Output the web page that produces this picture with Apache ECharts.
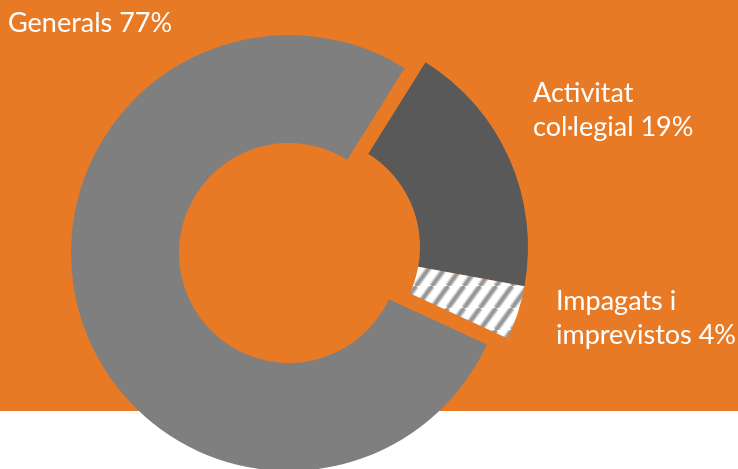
<!DOCTYPE html>
<html>
<head>
<meta charset="utf-8">
<script src="https://cdn.jsdelivr.net/npm/echarts@6/dist/echarts.min.js"></script>
<style>
html,body{margin:0;padding:0;background:#ffffff;}
#chart{width:738px;height:469px;}
</style>
</head>
<body>
<div id="chart"></div>
<script>
// Data
var categories = ['Activitat\ncol·legial', 'Impagats i\nimprevistos', 'Generals'];
var values = [19, 4, 77];
var labelTexts = ['Activitat\ncol·legial 19%', 'Impagats i\nimprevistos 4%', 'Generals 77%'];

// Layout / styles (kept separate from data)
var labelPos = [[533, 76], [556, 284], [8, 6]];
var sliceColors = ['#595959', null, '#7f7f7f'];
var explodedIndex = 2;          // "Generals" slice pulled out
var baseCenter = [310, 247];
var explodedCenter = [289, 253];

function hatch() {
  var W = 16, H = 22;
  var c = document.createElement('canvas');
  c.width = W; c.height = H;
  var ctx = c.getContext('2d');
  ctx.fillStyle = '#ffffff';
  ctx.fillRect(0, 0, W, H);
  var passes = [[7, 'rgba(175,175,175,0.3)'], [5, 'rgba(160,160,160,0.6)'], [3, '#979797']];
  passes.forEach(function (p) {
    ctx.lineWidth = p[0];
    ctx.strokeStyle = p[1];
    for (var k = -1; k <= 1; k++) {
      ctx.beginPath();
      ctx.moveTo(k * W, H);
      ctx.lineTo(k * W + W, 0);
      ctx.stroke();
    }
  });
  return c;
}
var hatchPattern = {image: hatch(), repeat: 'repeat'};

function makeData(showExploded) {
  return categories.map(function (n, i) {
    var visible = (i === explodedIndex) === showExploded;
    return {
      name: n,
      value: values[i],
      label: {show: visible, formatter: labelTexts[i]},
      itemStyle: {color: visible ? (sliceColors[i] || hatchPattern) : 'rgba(0,0,0,0)'}
    };
  });
}

var common = {
  type: 'pie',
  radius: [110, 218],
  startAngle: 58,
  clockwise: true,
  silent: true,
  avoidLabelOverlap: false,
  emphasis: {disabled: true},
  itemStyle: {borderWidth: 0},
  label: {
    color: '#ffffff',
    fontFamily: 'Lato',
    fontSize: 27,
    lineHeight: 34
  },
  labelLine: {show: false},
  labelLayout: function (p) {
    var pos = labelPos[p.dataIndex];
    return {x: pos[0], y: pos[1], align: 'left', verticalAlign: 'top'};
  }
};

var chart = echarts.init(document.getElementById('chart'), null, {renderer: 'canvas'});
chart.setOption({
  animation: false,
  backgroundColor: '#ffffff',
  graphic: [{
    type: 'rect', z: -10, silent: true,
    shape: {x: 0, y: 0, width: 738, height: 411},
    style: {fill: '#e87a25'}
  }],
  series: [
    Object.assign({}, common, {center: baseCenter, data: makeData(false)}),
    Object.assign({}, common, {center: explodedCenter, data: makeData(true)})
  ]
});
</script>
</body>
</html>
